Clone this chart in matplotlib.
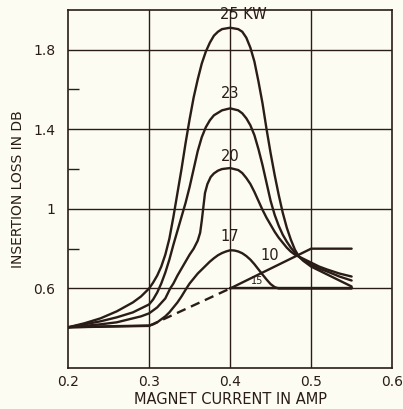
import matplotlib.pyplot as plt

# curves (x = magnet current A, y = insertion loss dB)
kw25_x = [0.20, 0.22, 0.24, 0.26, 0.28, 0.29, 0.30, 0.305, 0.31, 0.315, 0.32, 0.325, 0.33, 0.335, 0.34,
          0.345, 0.35, 0.355, 0.36, 0.365, 0.37, 0.375, 0.38, 0.385, 0.39, 0.40, 0.41, 0.415, 0.42,
          0.425, 0.43, 0.435, 0.44, 0.445, 0.45, 0.455, 0.46, 0.465, 0.47, 0.475, 0.48, 0.485, 0.49,
          0.50, 0.51, 0.52, 0.535, 0.55]
kw25_y = [0.405, 0.425, 0.45, 0.485, 0.53, 0.56, 0.60, 0.63, 0.665, 0.71, 0.77, 0.85, 0.96, 1.08, 1.20,
          1.33, 1.45, 1.56, 1.65, 1.73, 1.79, 1.835, 1.87, 1.89, 1.903, 1.91, 1.903, 1.89, 1.86,
          1.81, 1.74, 1.64, 1.53, 1.40, 1.28, 1.17, 1.07, 0.98, 0.905, 0.845, 0.795, 0.76, 0.74,
          0.71, 0.69, 0.67, 0.64, 0.61]

kw23_x = [0.20, 0.22, 0.24, 0.26, 0.28, 0.29, 0.30, 0.305, 0.31, 0.315, 0.32, 0.325, 0.33, 0.335, 0.34,
          0.345, 0.35, 0.355, 0.36, 0.365, 0.37, 0.375, 0.38, 0.39, 0.40, 0.41, 0.415, 0.42, 0.425,
          0.43, 0.435, 0.44, 0.445, 0.45, 0.455, 0.46, 0.465, 0.47, 0.475, 0.48, 0.485, 0.49, 0.50,
          0.51, 0.52, 0.535, 0.55]
kw23_y = [0.405, 0.42, 0.435, 0.455, 0.48, 0.50, 0.52, 0.545, 0.58, 0.625, 0.68, 0.745, 0.82, 0.89, 0.96,
          1.03, 1.11, 1.20, 1.29, 1.36, 1.41, 1.445, 1.47, 1.495, 1.505, 1.495, 1.48, 1.455, 1.42,
          1.37, 1.30, 1.22, 1.13, 1.04, 0.97, 0.915, 0.87, 0.835, 0.805, 0.78, 0.76, 0.745, 0.72,
          0.70, 0.685, 0.66, 0.64]

kw20_x = [0.20, 0.22, 0.24, 0.26, 0.28, 0.29, 0.30, 0.31, 0.32, 0.326, 0.33, 0.335, 0.34, 0.345, 0.35,
          0.355, 0.36, 0.363, 0.365, 0.367, 0.369, 0.372, 0.376, 0.38, 0.385, 0.39, 0.40, 0.41, 0.415,
          0.42, 0.425, 0.43, 0.435, 0.44, 0.445, 0.45, 0.455, 0.46, 0.465, 0.47, 0.475, 0.48, 0.485,
          0.49, 0.50, 0.51, 0.52, 0.535, 0.55]
kw20_y = [0.405, 0.412, 0.42, 0.43, 0.45, 0.46, 0.475, 0.505, 0.55, 0.60, 0.625, 0.665, 0.70, 0.735, 0.77,
          0.80, 0.84, 0.88, 0.94, 1.01, 1.08, 1.125, 1.16, 1.178, 1.192, 1.20, 1.205, 1.195, 1.18,
          1.155, 1.125, 1.085, 1.04, 0.995, 0.955, 0.92, 0.885, 0.855, 0.83, 0.805, 0.785, 0.77, 0.76,
          0.75, 0.73, 0.71, 0.695, 0.675, 0.66]

kw17_x = [0.20, 0.25, 0.30, 0.305, 0.31, 0.315, 0.32, 0.325, 0.33, 0.335, 0.34, 0.346, 0.35, 0.355, 0.36,
          0.365, 0.37, 0.375, 0.38, 0.385, 0.39, 0.395, 0.40, 0.405, 0.41, 0.415, 0.42, 0.425, 0.43,
          0.435, 0.44, 0.445, 0.45, 0.455, 0.46, 0.55]
kw17_y = [0.405, 0.41, 0.414, 0.42, 0.43, 0.445, 0.46, 0.48, 0.505, 0.53, 0.56, 0.60, 0.625, 0.65, 0.675,
          0.695, 0.715, 0.735, 0.752, 0.767, 0.778, 0.786, 0.792, 0.791, 0.786, 0.777, 0.763, 0.745, 0.722,
          0.696, 0.67, 0.645, 0.622, 0.607, 0.60, 0.60]

base_x = [0.20, 0.30]
base_y = [0.405, 0.412]
dash_x = [0.30, 0.40]
dash_y = [0.412, 0.60]
kw10_x = [0.40, 0.50, 0.55]
kw10_y = [0.60, 0.80, 0.80]
kw15_x = [0.40, 0.55]
kw15_y = [0.60, 0.60]

curve_labels = ['25 KW', '23', '20', '17', '10', '15']
label_x = [0.416, 0.40, 0.40, 0.40, 0.449, 0.433]
label_y = [1.975, 1.58, 1.265, 0.86, 0.765, 0.64]

x_ticks = [0.2, 0.3, 0.4, 0.5, 0.6]
x_tick_labels = ['0.2', '0.3', '0.4', '0.5', '0.6']
y_ticks = [0.6, 1.0, 1.4, 1.8]
y_tick_labels = ['0.6', '1', '1.4', '1.8']
y_minor = [0.8, 1.2, 1.6]

ink = '#2a1c17'
paper = '#fcfcf3'

fig = plt.figure(figsize=(4.03, 4.09), dpi=100, facecolor=paper)
ax = fig.add_axes([0.169, 0.100, 0.804, 0.876], facecolor=paper)

ax.set_xlim(0.2, 0.6)
ax.set_ylim(0.2, 2.0)

for xv in x_ticks[1:-1]:
    ax.axvline(xv, color=ink, lw=1.0, zorder=1)
for yv in y_ticks:
    ax.axhline(yv, color=ink, lw=1.0, zorder=1)

lw = 1.7
for xs, ys in [(kw25_x, kw25_y), (kw23_x, kw23_y), (kw20_x, kw20_y), (kw17_x, kw17_y),
               (base_x, base_y), (kw10_x, kw10_y), (kw15_x, kw15_y)]:
    ax.plot(xs, ys, color=ink, lw=lw, solid_capstyle='round', solid_joinstyle='round', zorder=3)
ax.plot(dash_x, dash_y, color=ink, lw=lw, dashes=(4, 2.5), zorder=3)

for i, txt in enumerate(curve_labels):
    fs = 7 if txt == '15' else 10.5
    ax.text(label_x[i], label_y[i], txt, ha='center', va='center', fontsize=fs, color=ink, zorder=4)

ax.set_xticks(x_ticks)
ax.set_xticklabels(x_tick_labels)
ax.set_yticks(y_ticks)
ax.set_yticklabels(y_tick_labels)
ax.set_yticks(y_minor, minor=True)
ax.tick_params(axis='both', which='major', length=0, labelsize=10, colors=ink)
ax.tick_params(axis='y', which='major', pad=9)
ax.tick_params(axis='x', which='major', pad=5)
ax.tick_params(axis='y', which='minor', direction='in', length=8, width=1.0, color=ink)

for s in ax.spines.values():
    s.set_color(ink)
    s.set_linewidth(1.2)

ax.set_xlabel('MAGNET CURRENT IN AMP', fontsize=10.5, color=ink, labelpad=2)
ax.set_ylabel('INSERTION LOSS IN DB', fontsize=10, color=ink, labelpad=6)

fig.savefig('out.png', dpi=100, facecolor=paper)
